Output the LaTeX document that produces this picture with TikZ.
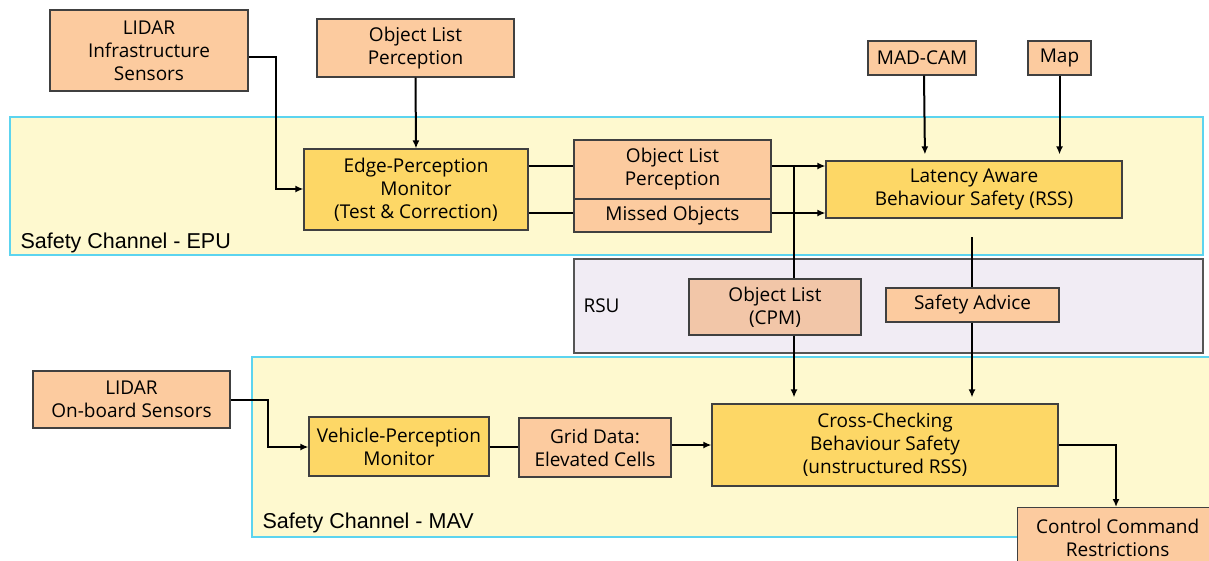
\documentclass[tikz,border=0pt]{standalone}
\usepackage{fontspec}
\setmainfont{Open Sans}
\newfontfamily\labelfont{Liberation Sans}
\usetikzlibrary{arrows.meta,positioning}
\definecolor{peach}{HTML}{FCCB9F}
\definecolor{cpmpeach}{HTML}{F2C6A8}
\definecolor{gold}{HTML}{FDD766}
\definecolor{zoneyellow}{HTML}{FEF9CF}
\definecolor{zonecyan}{HTML}{5CD4EF}
\definecolor{rsulilac}{HTML}{F1ECF4}
\definecolor{rsuedge}{HTML}{555555}
\tikzset{
  box/.style={draw=black!75, line width=1.2pt, align=center, inner sep=0pt,
    font=\fontsize{19}{23}\selectfont},
  obox/.style={box, fill=peach},
  ybox/.style={box, fill=gold},
  zone/.style={draw=zonecyan, line width=1.5pt, fill=zoneyellow},
  zonelabel/.style={anchor=base west, font=\labelfont\fontsize{21.5}{25}\selectfont},
  link/.style={line width=2pt},
  arr/.style={line width=2pt, -{Latex[length=8pt,width=7pt]}},
}
\begin{document}
\begin{tikzpicture}[x=1pt,y=-1pt]
\useasboundingbox (0,0) rectangle (1209,560);
\clip (0,0) rectangle (1209,560);
\fill[white] (0,0) rectangle (1209,560);

% channel zones
\draw[zone] (10,117) rectangle (1203,255);
\draw[zone] (252,357) rectangle (1215,537);
\draw[draw=rsuedge, line width=1.2pt, fill=rsulilac] (574,259) rectangle (1203,353);
\node[zonelabel] (epu) at (17,248) {Safety Channel - EPU};
\node[zonelabel] (mav) at (259,528) {Safety Channel - MAV};
\node[zonelabel, font=\fontsize{19}{22}\selectfont] (rsu) at (580,312) {RSU};

% top inputs
\node[obox, minimum width=198pt, minimum height=81pt] (lidarI) at (149,50.5) {LIDAR\\Infrastructure\\Sensors};
\node[obox, minimum width=197pt, minimum height=58pt] (olp) at (415.5,48) {Object List\\Perception};
\node[obox, minimum width=108pt, minimum height=34pt] (madcam) at (922,58) {MAD-CAM};
\node[obox, minimum width=63pt, minimum height=34pt] (map) at (1059.5,58) {Map};

% EPU channel
\node[ybox, minimum width=224pt, minimum height=81pt] (epm) at (416,189.5) {Edge-Perception\\Monitor\\(Test \& Correction)};
\node[obox, minimum width=197pt, minimum height=59pt] (olp2) at (672.5,169.5) {Object List\\Perception};
\node[obox, minimum width=197pt, minimum height=33pt] (missed) at (672.5,215.5) {Missed Objects};
\node[ybox, minimum width=296pt, minimum height=57pt] (rss) at (974,189.5) {Latency Aware\\Behaviour Safety (RSS)};

% RSU
\node[obox, fill=cpmpeach, minimum width=172pt, minimum height=56pt] (cpm) at (775,307) {Object List\\(CPM)};
\node[obox, minimum width=173pt, minimum height=34pt] (advice) at (972.5,305) {Safety Advice};

% MAV channel
\node[obox, minimum width=197pt, minimum height=57pt] (lidarO) at (131.5,399.5) {LIDAR\\On-board Sensors};
\node[ybox, minimum width=180pt, minimum height=59pt] (vpm) at (399,446.5) {Vehicle-Perception\\Monitor};
\node[obox, minimum width=152pt, minimum height=59pt] (grid) at (595,447.5) {Grid Data:\\Elevated Cells};
\node[ybox, minimum width=346pt, minimum height=82pt] (cross) at (885,445) {Cross-Checking\\Behaviour Safety\\(unstructured RSS)};
\node[obox, minimum width=200pt, minimum height=60pt, anchor=north west] (ctrl) at (1017,507) {Control Command\\Restrictions};

% connectors
\coordinate (splitT) at (794,166);
\coordinate (rssOut) at (972,237);
\draw[arr] (lidarI.east |- 0,57) -| (276,189) -- (epm.west |- 0,189);
\draw[arr] (olp.south) -- (epm.north);
\draw[link] (epm.east |- 0,166) -- (olp2.west |- 0,166);
\draw[link] (epm.east |- 0,213) -- (missed.west |- 0,213);
\draw[arr] (olp2.east |- 0,166) -- (rss.west |- 0,166);
\draw[arr] (missed.east |- 0,213) -- (rss.west |- 0,213);
\draw[link] (splitT) -- (splitT |- cpm.north);
\draw[arr, shorten >=6pt] (madcam.south -| 924,0) -- (rss.north -| 925,0);
\draw[arr, shorten >=6pt] (map.south) -- (rss.north -| map.south);
\draw[link] (rssOut) -- (advice.north -| rssOut);
\draw[arr, shorten >=6pt] (cpm.south -| splitT) -- (cross.north -| splitT);
\draw[arr, shorten >=6pt] (advice.south -| rssOut) -- (cross.north -| rssOut);
\draw[arr] (lidarO.east) -| (268,447) -- (vpm.west |- 0,447);
\draw[link] (vpm.east |- 0,447) -- (grid.west |- 0,447);
\draw[arr] (grid.east |- 0,445) -- (cross.west |- 0,445);
\draw[arr] (cross.east) -| (ctrl.north -| 1116,0);
\end{tikzpicture}
\end{document}
